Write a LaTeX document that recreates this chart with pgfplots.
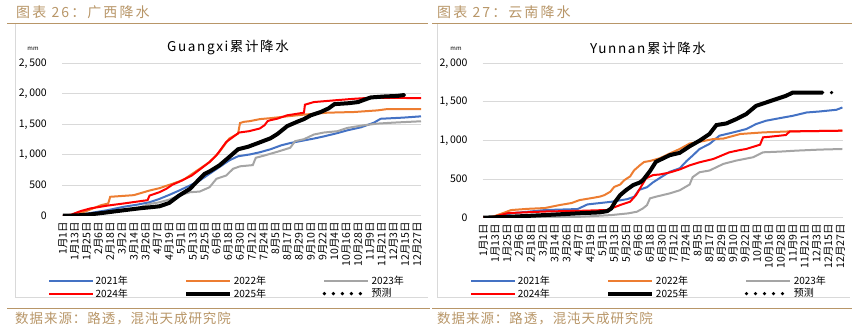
\documentclass[border=0pt]{standalone}
\usepackage{fontspec}
\setmainfont{Noto Sans CJK SC}
\newfontfamily\headfont[LetterSpace=15]{Noto Sans CJK SC}
\newfontfamily\footfont[LetterSpace=7]{Noto Sans CJK SC}
\newfontfamily\titlefont[LetterSpace=12]{Noto Sans CJK SC}
\usepackage{pgfplots}
\pgfplotsset{compat=1.18}
\definecolor{gold}{RGB}{184,150,104}
\definecolor{c21}{RGB}{68,114,196}
\definecolor{c22}{RGB}{237,125,49}
\definecolor{c23}{RGB}{165,165,165}
\definecolor{c24}{RGB}{255,0,0}
\definecolor{gridc}{RGB}{217,217,217}
\definecolor{framec}{RGB}{217,217,217}
\pgfplotsset{
  mystyle/.style={
    scale only axis,
    axis line style={draw=none},
    major tick length=0pt,
    ymajorgrids,
    grid style={gridc, line width=0.9pt},
    xtick={0,12,...,360},
    xticklabels={1月1日,1月13日,1月25日,2月6日,2月18日,3月2日,3月14日,3月26日,4月7日,4月19日,5月1日,5月13日,5月25日,6月6日,6月18日,6月30日,7月12日,7月24日,8月5日,8月17日,8月29日,9月10日,9月22日,10月4日,10月16日,10月28日,11月9日,11月21日,12月3日,12月15日,12月27日},
    xticklabel style={rotate=90, anchor=east, inner sep=0pt, font=\fontsize{10.5}{11}\selectfont},
    xticklabel shift=6pt,
    yticklabel style={anchor=east, inner sep=0pt, font=\fontsize{10.5}{11}\selectfont},
    yticklabel shift=15pt,
    /pgf/number format/.cd, 1000 sep={,\,}, assume math mode=true,
    /pgfplots/.cd,
    legend columns=3,
    legend cell align=left,
    legend image code/.code={\draw[##1] (0pt,0pt) -- (44pt,0pt);},
    legend style={draw=none, fill=none, inner sep=0pt, anchor=north west,
      font=\fontsize{10}{11}\selectfont,
      nodes={inner sep=1.5pt},
      /tikz/every even column/.append style={column sep=55pt}},
  },
  s21/.style={c21, line width=2pt},
  s22/.style={c22, line width=2pt},
  s23/.style={c23, line width=2pt},
  s24/.style={c24, line width=2pt},
  s25/.style={black, line width=4pt},
  sfc/.style={black, line width=3.6pt, line cap=round, dash pattern=on 0pt off 9pt},
}
\begin{document}
\begin{tikzpicture}
\path[use as bounding box] (0,0) rectangle (857pt,329pt);
% headers / footers
\node[anchor=west, text=gold, font=\headfont\fontsize{14}{15}\selectfont, inner sep=0pt] at (16pt,317pt) {图表 26：广西降水};
\node[anchor=west, text=gold, font=\headfont\fontsize{14}{15}\selectfont, inner sep=0pt] at (437pt,317pt) {图表 27：云南降水};
\draw[gold, line width=0.8pt] (7pt,305.7pt) -- (428pt,305.7pt);
\draw[gold, line width=0.8pt] (432pt,305.7pt) -- (852pt,305.7pt);
\draw[gold, line width=0.8pt] (7pt,20.7pt) -- (430pt,20.7pt);
\draw[gold, line width=0.8pt] (432pt,20.7pt) -- (852pt,20.7pt);
\node[anchor=west, text=gold, font=\footfont\fontsize{13.5}{14}\selectfont, inner sep=0pt] at (15pt,10.5pt) {数据来源：路透，混沌天成研究院};
\node[anchor=west, text=gold, font=\footfont\fontsize{13.5}{14}\selectfont, inner sep=0pt] at (437pt,10.5pt) {数据来源：路透，混沌天成研究院};
% frames
\draw[framec, line width=0.8pt] (15.5pt,305pt) -- (15.5pt,32pt) -- (428pt,32pt);
\draw[framec, line width=0.8pt] (437pt,305pt) -- (437pt,32pt) -- (850pt,32pt);
% titles
\node[font=\titlefont\fontsize{13.5}{14}\selectfont] at (228pt,281pt) {Guangxi累计降水};
\node[font=\titlefont\fontsize{13.5}{14}\selectfont] at (648pt,281pt) {Yunnan累计降水};
\node[font=\fontsize{6}{7}\selectfont] at (33pt,280pt) {mm};
\node[font=\fontsize{6}{7}\selectfont] at (456pt,280.5pt) {mm};

% ---------------- Guangxi ----------------
\begin{axis}[mystyle, at={(62pt,113.3pt)}, anchor=south west,
  width=359pt, height=152.4pt, xmin=-1, xmax=364, ymin=0, ymax=2500,
  ytick={0,500,...,2500},
  legend style={at={(-0.039,-0.3825)}}]
\addplot[s21] coordinates {(0,0) (10,3) (20,20) (30,50) (45,90) (62,147) (75,180) (88,220) (98,275) (108,341) (118,412) (129,495) (139,577) (149,687) (159,797) (169,907) (178,975) (190,1005) (200,1040) (211,1090) (222,1155) (232,1195) (245,1235) (255,1265) (265,1300) (279,1355) (289,1400) (303,1450) (316,1525) (323,1590) (346,1609) (364,1630)};
\addlegendentry{2021年}
\addplot[s22] coordinates {(0,0) (10,15) (22,65) (39,174) (46,200) (48,310) (72,337) (88,413) (98,451) (108,506) (118,561) (124,605) (129,660) (139,770) (149,880) (159,1045) (169,1265) (178,1347) (180,1520) (184,1540) (190,1551) (200,1584) (211,1600) (228,1630) (245,1658) (269,1690) (296,1701) (320,1728) (330,1750) (364,1750)};
\addlegendentry{2022年}
\addplot[s23] coordinates {(0,0) (15,3) (30,30) (45,55) (62,90) (75,120) (88,192) (98,220) (108,264) (118,330) (129,385) (139,396) (149,467) (156,605) (166,660) (173,770) (180,810) (193,830) (196,950) (204,984) (218,1049) (231,1114) (236,1223) (245,1255) (255,1331) (265,1364) (279,1386) (289,1440) (306,1484) (320,1511) (336,1527) (364,1549)};
\addlegendentry{2023年}
\addplot[s24] coordinates {(0,0) (8,15) (18,76) (28,120) (45,165) (62,201) (86,255) (88,330) (98,385) (105,440) (111,506) (121,577) (131,660) (141,781) (149,880) (156,990) (161,1100) (166,1210) (173,1292) (179,1364) (189,1386) (200,1430) (205,1485) (208,1551) (211,1567) (218,1592) (228,1647) (245,1690) (246,1821) (255,1864) (275,1891) (296,1918) (313,1935) (364,1929)};
\addlegendentry{2024年}
\addplot[s25] coordinates {(0,0) (15,5) (28,22) (45,55) (62,90) (80,125) (88,137) (98,154) (108,209) (118,330) (129,440) (139,605) (144,687) (149,726) (159,825) (169,962) (178,1090) (188,1130) (198,1190) (211,1270) (218,1340) (228,1470) (238,1540) (245,1585) (252,1647) (262,1701) (270,1760) (276,1830) (290,1845) (300,1864) (306,1900) (313,1940) (326,1955) (340,1965) (347,1980)};
\addlegendentry{2025年}
\addplot[sfc] coordinates {(347,1980) (356,1988)};
\addlegendentry{预测}
\end{axis}

% ---------------- Yunnan ----------------
\begin{axis}[mystyle, at={(482.7pt,111.3pt)}, anchor=south west,
  width=360.3pt, height=154.4pt, xmin=-0.6, xmax=362.6, ymin=0, ymax=2000,
  ytick={0,500,...,2000},
  legend style={at={(-0.035,-0.3646)}}]
\addplot[s21] coordinates {(0,0) (10,10) (28,56) (62,99) (95,112) (105,172) (129,206) (145,240) (152,270) (157,360) (165,395) (171,457) (178,515) (188,595) (198,640) (205,735) (211,804) (218,890) (228,955) (238,1062) (252,1105) (265,1148) (275,1213) (285,1256) (299,1290) (312,1320) (326,1363) (339,1376) (356,1398) (362,1428)};
\addlegendentry{2021年}
\addplot[s22] coordinates {(0,0) (10,15) (20,60) (28,99) (45,115) (62,125) (77,164) (89,190) (97,228) (112,260) (118,275) (122,292) (128,336) (132,399) (138,430) (142,485) (148,535) (152,613) (158,681) (162,721) (168,735) (178,770) (188,832) (198,890) (208,961) (215,976) (232,1019) (242,1025) (259,1084) (282,1105) (309,1118) (362,1127)};
\addlegendentry{2022年}
\addplot[s23] coordinates {(0,0) (30,2) (95,10) (129,34) (146,56) (155,78) (161,121) (165,163) (168,250) (174,272) (188,315) (198,355) (208,430) (211,525) (218,589) (228,611) (242,697) (255,740) (272,783) (282,847) (299,856) (316,869) (339,882) (362,890)};
\addlegendentry{2023年}
\addplot[s24] coordinates {(0,0) (10,10) (25,60) (62,80) (100,90) (125,100) (138,164) (148,207) (154,293) (159,401) (164,509) (171,552) (178,560) (188,586) (198,625) (208,678) (218,718) (232,761) (248,847) (259,877) (265,890) (279,946) (282,1041) (289,1049) (305,1071) (309,1118) (362,1127)};
\addlegendentry{2024年}
\addplot[s25] coordinates {(0,0) (28,13) (62,34) (95,56) (117,69) (125,85) (129,120) (133,207) (138,293) (144,358) (151,422) (158,457) (161,487) (168,603) (174,724) (181,767) (188,810) (198,840) (208,925) (218,998) (228,1084) (235,1200) (245,1221) (255,1277) (265,1342) (275,1449) (285,1492) (295,1535) (305,1578) (312,1621) (342,1621)};
\addlegendentry{2025年}
\addplot[sfc] coordinates {(342,1621) (360,1621)};
\addlegendentry{预测}
\end{axis}
\end{tikzpicture}
\end{document}
